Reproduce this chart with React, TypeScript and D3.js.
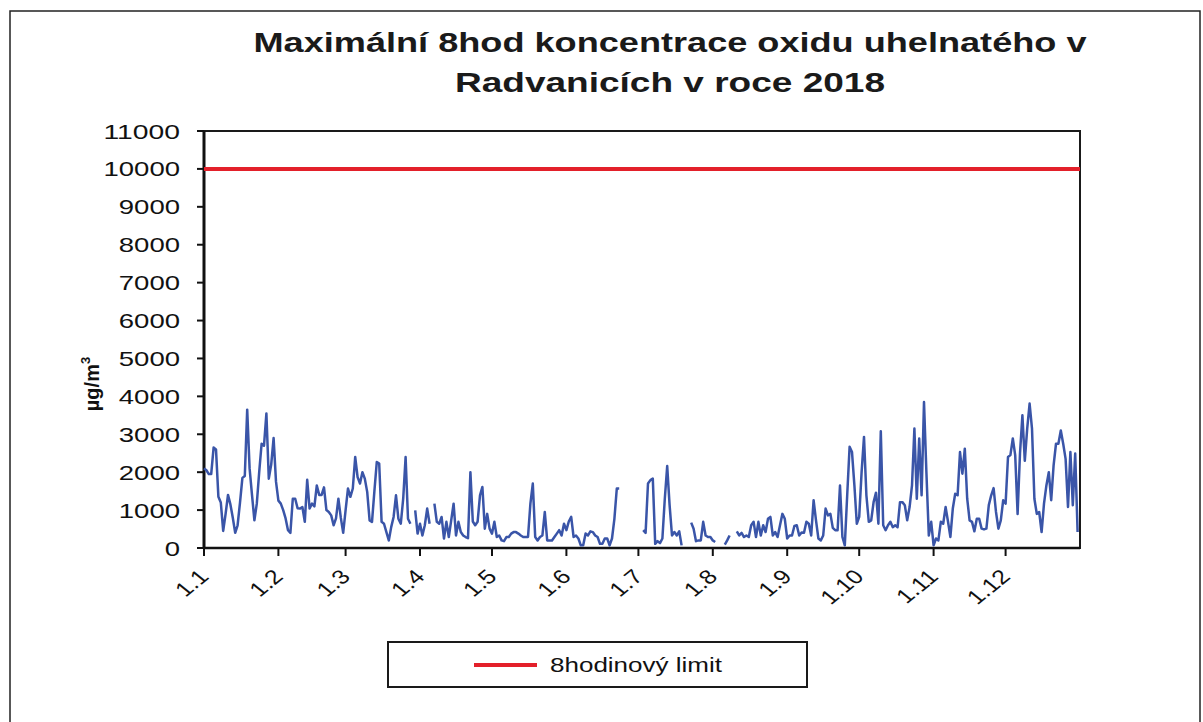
import React from "react";
import * as d3 from "d3";

const titleLines = ["Maximální 8hod koncentrace oxidu uhelnatého v", "Radvanicích v roce 2018"];
const yTicks = [0, 1000, 2000, 3000, 4000, 5000, 6000, 7000, 8000, 9000, 10000, 11000];
const monthLabels = ["1.1", "1.2", "1.3", "1.4", "1.5", "1.6", "1.7", "1.8", "1.9", "1.10", "1.11", "1.12"];
const monthStartDays = [0, 31, 59, 90, 120, 151, 181, 212, 243, 273, 304, 334];
const limitValue = 10000;
const limitLabel = "8hodinový limit";

// daily max 8h CO concentration (µg/m3), null = missing
const jan = [2100, 2050, 1950, 1950, 2650, 2600, 1350, 1200, 450, 900, 1400, 1150, 800, 400, 600, 1200, 1850, 1900, 3650, 2100, 1400, 730, 1170, 2000, 2750, 2700, 3550, 1830, 2200, 2900, 1750];
const feb = [1250, 1170, 1000, 780, 470, 400, 1300, 1300, 1050, 1040, 1080, 690, 1800, 1040, 1170, 1100, 1650, 1400, 1400, 1600, 1000, 950, 860, 600, 780, 1300, 800, 400];
const mar = [1000, 1570, 1350, 1570, 2400, 1870, 1700, 2000, 1830, 1480, 730, 690, 1500, 2270, 2230, 690, 640, 420, 200, 550, 820, 1390, 770, 640, 1300, 2400, 770, 640, null, 990, 380];
const apr = [640, 330, 600, 1040, 640, null, 1170, 690, 640, 820, 250, 690, 290, 730, 1170, 330, 690, 420, 330, 290, 260, 2000, 700, 600, 690, 1390, 1610, 510, 900, 510];
const may = [380, 690, 290, 330, 200, 180, 290, 290, 380, 420, 420, 380, 330, 290, 290, 290, 1170, 1700, 290, 200, 290, 330, 950, 200, 200, 200, 290, 380, 470, 330, 640];
const jun = [470, 700, 820, 290, 330, 250, 70, 70, 380, 330, 440, 420, 330, 290, 110, 110, 250, 250, 70, 250, 770, 1570, 1570, null, null, null, null, null, null, null];
const jul = [null, null, 470, 400, 1700, 1790, 1830, 110, 180, 130, 250, 1300, 2160, 1130, 330, 420, 330, 440, 70, null, null, null, 670, 510, 180, 200, 200, 690, 330, 290, 290];
const aug = [200, 160, null, null, null, 90, 200, 330, null, null, 440, 330, 400, 290, 330, 290, 600, 690, 290, 690, 330, 600, 420, 770, 820, 330, 420, 290, 600, 900, 770];
const sep = [250, 330, 330, 580, 600, 330, 410, 400, 690, 640, 330, 1260, 730, 250, 200, 330, 1040, 860, 900, 530, 470, 470, 1650, 290, 70, 1390, 2670, 2530, 1650, 640];
const oct = [820, 2000, 2930, 1390, 690, 730, 1210, 1460, 640, 3080, 600, 470, 600, 690, 550, 600, 550, 1210, 1210, 1130, 730, 1080, 1650, 3150, 1300, 2890, 1390, 3850, 2000, 330, 690];
const nov = [70, 250, 200, 690, 640, 1080, 700, 290, 1040, 1430, 1390, 2530, 1960, 2620, 1300, 730, 690, 440, 770, 770, 510, 490, 510, 1130, 1390, 1580, 950, 510, 730, 1260];
const dec = [1170, 2400, 2450, 2890, 2450, 900, 2500, 3500, 2300, 3150, 3810, 3150, 1300, 900, 950, 420, 1170, 1650, 2000, 1260, 2180, 2750, 2750, 3100, 2750, 2350, 1080, 2530, 1130, 2490, 420];

const values: (number | null)[] = [...jan, ...feb, ...mar, ...apr, ...may, ...jun, ...jul, ...aug, ...sep, ...oct, ...nov, ...dec];

export default function App() {
  const W = 1203, H = 722;
  const left = 204, right = 1080, top = 131, bottom = 548;
  const x = d3.scaleLinear().domain([0, 365]).range([left, right]);
  const y = d3.scaleLinear().domain([0, 11000]).range([bottom, top]);
  const line = d3.line<number | null>()
    .defined((d) => d !== null)
    .x((_, i) => x(i))
    .y((d) => y(d as number));
  const font = "'Liberation Sans', Arial, sans-serif";
  const titleLens = [833, 430];

  return (
    <svg width={W} height={H} style={{ position: "absolute", left: 0, top: 0, background: "#fff" }} fontFamily={font}>
      <rect x={0} y={0} width={W} height={H} fill="#fff" />
      <rect x={10} y={11} width={1190} height={730} fill="none" stroke="#222" strokeWidth={1.5} />
      {titleLines.map((t, i) => (
        <text key={i} x={670} y={52 + i * 40} textAnchor="middle" fontSize={28} fontWeight="bold" fill="#1a1a1a"
          textLength={titleLens[i]} lengthAdjust="spacingAndGlyphs">{t}</text>
      ))}
      {/* plot frame */}
      <rect x={left} y={top} width={right - left} height={bottom - top} fill="none" stroke="#1a1a1a" strokeWidth={2} />
      <line x1={left} x2={left} y1={top} y2={bottom} stroke="#111" strokeWidth={3} />
      {yTicks.map((t) => (
        <g key={t}>
          <line x1={left - 7} x2={left} y1={y(t)} y2={y(t)} stroke="#111" strokeWidth={2} />
          <text x={180} y={y(t) + 7.5} textAnchor="end" fontSize={21} fill="#111"
            textLength={String(t).length * 15.3} lengthAdjust="spacingAndGlyphs">{t}</text>
        </g>
      ))}
      {monthStartDays.map((d, i) => (
        <g key={i}>
          <line x1={x(d)} x2={x(d)} y1={bottom} y2={bottom + 8} stroke="#111" strokeWidth={2} />
          <text transform={`translate(${x(d) + 6},${bottom + 30}) scale(1.25,1) rotate(-45)`} textAnchor="end" fontSize={20} fill="#111">{monthLabels[i]}</text>
        </g>
      ))}
      <line x1={left} x2={right} y1={bottom} y2={bottom} stroke="#111" strokeWidth={2.5} />
      <line x1={left} x2={right} y1={y(limitValue)} y2={y(limitValue)} stroke="#e3202a" strokeWidth={4} />
      <path d={line(values) || ""} fill="none" stroke="#3a55a8" strokeWidth={2.5} strokeLinejoin="round" />
      <text transform={`translate(99,384) rotate(-90)`} textAnchor="middle" fontSize={20} fontWeight="bold" fill="#111">
        µg/m<tspan dy={-9} fontSize={13}>3</tspan>
      </text>
      {/* legend */}
      <rect x={388} y={642} width={419} height={45} fill="#fff" stroke="#1a1a1a" strokeWidth={2} />
      <line x1={474} x2={537} y1={665} y2={665} stroke="#e3202a" strokeWidth={4} />
      <text x={550} y={672} fontSize={21} fill="#111" textLength={172} lengthAdjust="spacingAndGlyphs">{limitLabel}</text>
    </svg>
  );
}
